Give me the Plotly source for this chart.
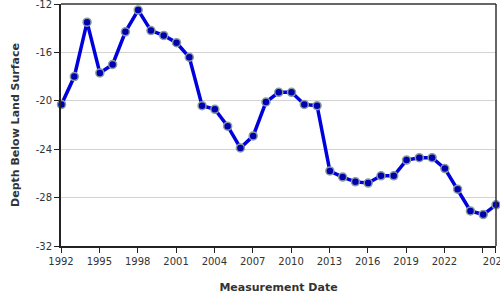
import plotly.graph_objects as go

years = list(range(1992, 2027))
dates = [f"{y}-01-15" for y in years]
depth = [-20.3, -18.0, -13.5, -17.7, -17.0, -14.3, -12.5, -14.2, -14.6, -15.2,
         -16.4, -20.4, -20.7, -22.1, -23.9, -22.9, -20.1, -19.3, -19.3, -20.3,
         -20.4, -25.8, -26.3, -26.7, -26.8, -26.2, -26.2, -24.9, -24.7, -24.7,
         -25.6, -27.3, -29.1, -29.4, -28.6]

x_tick_years = [1992, 1995, 1998, 2001, 2004, 2007, 2010, 2013, 2016, 2019, 2022, 2025, 2026]
x_tick_labels = ["1992", "1995", "1998", "2001", "2004", "2007", "2010", "2013", "2016",
                 "2019", "2022", "", "2026"]
y_ticks = [-12, -16, -20, -24, -28, -32]
y_tick_labels = ["-12", "-16", "-20", "-24", "-28", "-32"]

fig = go.Figure()
fig.add_trace(go.Scatter(
    x=dates, y=depth, mode="lines+markers", cliponaxis=False,
    line=dict(color="#0000dd", width=3.5),
    marker=dict(size=8, color="#0000b0", line=dict(color="#8a9c9c", width=1.5)),
    hoverinfo="skip", showlegend=False,
))

font = dict(family="DejaVu Sans", size=10, color="#333333")
fig.update_layout(
    width=500, height=300,
    margin=dict(l=61, r=4, t=4, b=54),
    paper_bgcolor="white", plot_bgcolor="white",
    font=font,
    xaxis=dict(
        range=["1992-01-01", "2026-01-15"],
        tickvals=[f"{y}-01-01" for y in x_tick_years], ticktext=x_tick_labels,
        ticks="outside", ticklen=5, tickcolor="#222222", tickwidth=1,
        showline=True, linecolor="#222222", linewidth=2,
        showgrid=False, zeroline=False, ticklabeloverflow="allow", automargin=False,
        tickfont=font,
        title=dict(text="<b>Measurement Date</b>", font=dict(family="DejaVu Sans", size=11, color="#333333"), standoff=17),
    ),
    yaxis=dict(
        range=[-32, -12],
        tickvals=y_ticks, ticktext=y_tick_labels,
        ticks="outside", ticklen=5, tickcolor="#222222", tickwidth=1,
        showline=True, linecolor="#222222", linewidth=2,
        showgrid=True, gridcolor="#d3d3d3", gridwidth=1, zeroline=False,
        ticklabeloverflow="allow", automargin=False,
        tickfont=font,
        title=dict(text="<b>Depth Below Land Surface</b>", font=dict(family="DejaVu Sans", size=11, color="#333333"), standoff=14),
    ),
    shapes=[
        dict(type="line", xref="paper", yref="paper", x0=0, x1=1, y0=1, y1=1,
             line=dict(color="#333333", width=1.5)),
        dict(type="line", xref="paper", yref="paper", x0=1, x1=1, y0=0, y1=1,
             line=dict(color="#333333", width=1.5)),
    ],
)

fig.write_html("out.html")
